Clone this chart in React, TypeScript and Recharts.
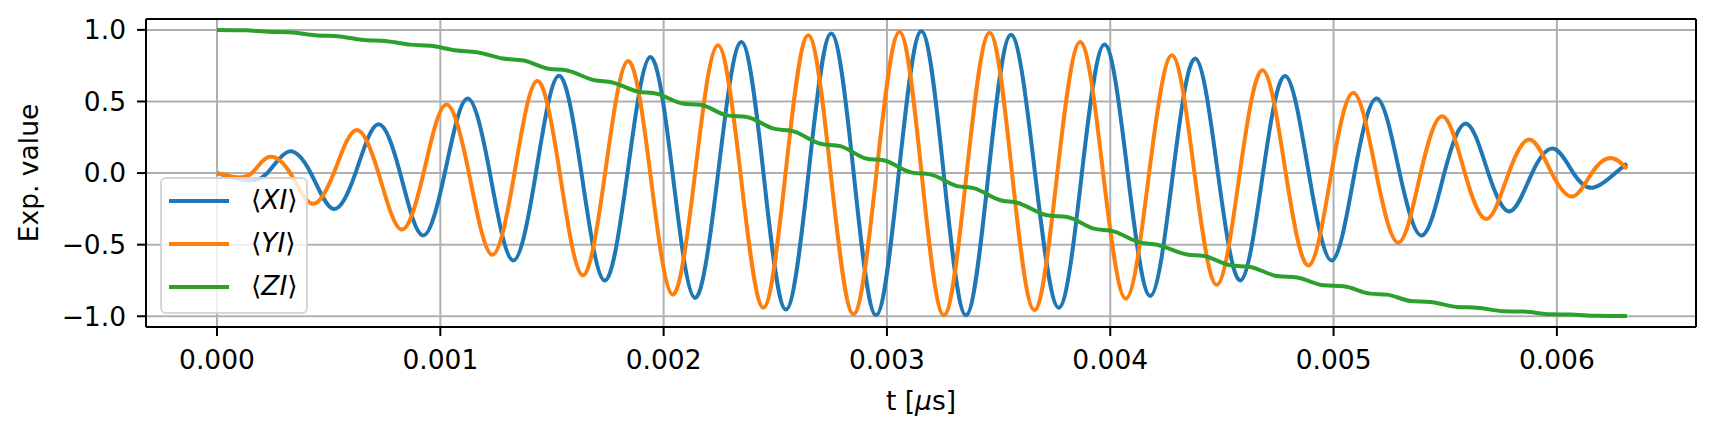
import React from "react";
import { LineChart, Line, XAxis, YAxis, CartesianGrid, Legend, Label, ReferenceLine } from "recharts";

// time samples [µs] and expectation values
const xiTime = [
  0, 0.00013, 0.000225, 0.00032, 0.00042, 0.00052, 0.00062, 0.00072, 0.00082, 0.00092,
  0.00102, 0.00112, 0.001222, 0.001325, 0.001428, 0.00153, 0.001632, 0.001735, 0.001838, 0.00194,
  0.00204, 0.00214, 0.002244, 0.002347, 0.002447, 0.002547, 0.002649, 0.00275, 0.002851, 0.002951,
  0.003053, 0.003154, 0.003254, 0.003354, 0.003455, 0.003556, 0.003663, 0.00377, 0.003873, 0.003975,
  0.004078, 0.00418, 0.004281, 0.004381, 0.004482, 0.004583, 0.004684, 0.004784, 0.004889, 0.004993,
  0.005094, 0.005195, 0.005296, 0.005397, 0.005496, 0.005595, 0.005693, 0.005791, 0.005889, 0.005986,
  0.006074, 0.006162, 0.006262, 0.006314,
];
const xiValue = [
  0, -0.05, 0, 0.15, 0, -0.25, 0, 0.34, 0, -0.435,
  0, 0.52, 0, -0.61, 0, 0.68, 0, -0.75, 0, 0.81,
  0, -0.872, 0, 0.916, 0, -0.953, 0, 0.975, 0, -0.993,
  0, 0.99, 0, -0.993, 0, 0.966, 0, -0.94, 0, 0.898,
  0, -0.858, 0, 0.8, 0, -0.75, 0, 0.678, 0, -0.61,
  0, 0.52, 0, -0.436, 0, 0.345, 0, -0.267, 0, 0.17,
  0, -0.102, 0, 0.066,
];

const yiTime = [
  0, 0.000082, 0.000156, 0.000231, 0.000328, 0.000425, 0.000523, 0.000622, 0.000723, 0.000825,
  0.000925, 0.001025, 0.001128, 0.001231, 0.001332, 0.001433, 0.001535, 0.001637, 0.001738, 0.00184,
  0.00194, 0.00204, 0.002141, 0.002242, 0.002344, 0.002446, 0.002546, 0.002647, 0.002748, 0.00285,
  0.002953, 0.003056, 0.003155, 0.003255, 0.003357, 0.00346, 0.00356, 0.003661, 0.003763, 0.003866,
  0.003968, 0.004071, 0.004174, 0.004277, 0.004377, 0.004478, 0.00458, 0.004683, 0.004786, 0.004889,
  0.00499, 0.00509, 0.005191, 0.005292, 0.00539, 0.005489, 0.005588, 0.005687, 0.005784, 0.005881,
  0.005977, 0.006072, 0.006156, 0.00624, 0.006314,
];
const yiValue = [
  0, -0.028, 0, 0.112, 0, -0.214, 0, 0.3, 0, -0.394,
  0, 0.478, 0, -0.571, 0, 0.643, 0, -0.714, 0, 0.783,
  0, -0.849, 0, 0.893, 0, -0.94, 0, 0.963, 0, -0.986,
  0, 0.986, 0, -0.993, 0, 0.98, 0, -0.958, 0, 0.916,
  0, -0.877, 0, 0.823, 0, -0.78, 0, 0.718, 0, -0.645,
  0, 0.56, 0, -0.485, 0, 0.397, 0, -0.32, 0, 0.233,
  0, -0.163, 0, 0.105, 0.03,
];

const ziTime = [
  0, 0.00013, 0.00023, 0.00034, 0.00044, 0.00055, 0.00066, 0.00076, 0.000866, 0.000955,
  0.001075, 0.001164, 0.00128, 0.001373, 0.001485, 0.001567, 0.00169, 0.00177, 0.001881, 0.00197,
  0.002089, 0.002164, 0.002284, 0.002373, 0.002493, 0.002582, 0.002702, 0.002791, 0.002911, 0.002985,
  0.003112, 0.003194, 0.003314, 0.003388, 0.003508, 0.003583, 0.003717, 0.003807, 0.003926, 0.004015,
  0.004135, 0.00421, 0.004344, 0.004419, 0.004538, 0.004627, 0.004747, 0.004837, 0.004956, 0.005045,
  0.005165, 0.005239, 0.005344, 0.005433, 0.005553, 0.005642, 0.005762, 0.005851, 0.00597, 0.00606,
  0.00618, 0.006314,
];
const ziValue = [
  1.0, 0.997, 0.987, 0.981, 0.962, 0.954, 0.929, 0.921, 0.897, 0.889,
  0.856, 0.844, 0.8, 0.786, 0.728, 0.717, 0.648, 0.633, 0.57, 0.554,
  0.484, 0.477, 0.403, 0.391, 0.31, 0.291, 0.205, 0.188, 0.1, 0.089,
  0.003, -0.009, -0.091, -0.105, -0.19, -0.207, -0.295, -0.307, -0.388, -0.407,
  -0.486, -0.5, -0.569, -0.579, -0.644, -0.656, -0.719, -0.73, -0.784, -0.791,
  -0.842, -0.849, -0.893, -0.9, -0.935, -0.94, -0.965, -0.967, -0.986, -0.988,
  -0.997, -0.999,
];

const xTicks = [0, 0.001, 0.002, 0.003, 0.004, 0.005, 0.006];
const yTicks = [-1, -0.5, 0, 0.5, 1];

const X_DOMAIN = [-0.000318, 0.006623];
const Y_DOMAIN = [-1.075, 1.076];

const FONT = '"DejaVu Sans", "Liberation Sans", sans-serif';
const FONT_SIZE = 26.5;

const toPoints = (time: number[], value: number[]) =>
  time.map((t, i) => ({ t, v: value[i] }));

const SERIES = [
  { key: "XI", color: "#1f77b4", curve: "natural", data: toPoints(xiTime, xiValue) },
  { key: "YI", color: "#ff7f0e", curve: "natural", data: toPoints(yiTime, yiValue) },
  { key: "ZI", color: "#2ca02c", curve: "monotone", data: toPoints(ziTime, ziValue) },
] as const;

const formatY = (v: number) => v.toFixed(1).replace("-", "\u2212");

function XTitle(props: any) {
  const { viewBox } = props;
  return (
    <text
      x={viewBox.x + viewBox.width / 2}
      y={viewBox.y + 83}
      textAnchor="middle"
      fontSize={FONT_SIZE}
      fontFamily={FONT}
      fill="#000"
    >
      t [<tspan fontStyle="italic">μ</tspan>s]
    </text>
  );
}

function YTitle(props: any) {
  const { viewBox } = props;
  const cx = viewBox.x - 8;
  const cy = viewBox.y + viewBox.height / 2;
  return (
    <text
      x={cx}
      y={cy}
      transform={`rotate(-90 ${cx} ${cy})`}
      textAnchor="middle"
      fontSize={FONT_SIZE}
      fontFamily={FONT}
      fill="#000"
    >
      Exp. value
    </text>
  );
}

const renderLegend = () => (
  <div
    style={{
      position: "relative",
      boxSizing: "border-box",
      width: 148,
      height: 137,
      background: "rgba(255,255,255,0.8)",
      border: "2px solid rgba(204,204,204,0.8)",
      borderRadius: 6,
      fontFamily: FONT,
      fontSize: FONT_SIZE,
      color: "#000",
    }}
  >
    {SERIES.map((s, i) => (
      <div
        key={s.key}
        style={{
          position: "absolute",
          left: 0,
          top: 0 + i * 43,
          height: 43,
          display: "flex",
          alignItems: "center",
          whiteSpace: "nowrap",
        }}
      >
        <div style={{ marginLeft: 7, width: 60, height: 4, background: s.color }} />
        <span style={{ marginLeft: 22, lineHeight: 1 }}>
          {"\u27E8"}
          <i>{s.key}</i>
          {"\u27E9"}
        </span>
      </div>
    ))}
  </div>
);

export default function App() {
  return (
    <div style={{ position: "absolute", left: 0, top: 0, width: 1716, height: 438, background: "#fff" }}>
      <LineChart width={1716} height={438} margin={{ top: 19, right: 20, left: 46, bottom: 51 }}>
        <CartesianGrid stroke="#b0b0b0" strokeWidth={2} />
        <XAxis
          dataKey="t"
          type="number"
          domain={X_DOMAIN}
          allowDataOverflow
          ticks={xTicks}
          tickFormatter={(v: number) => v.toFixed(3)}
          height={60}
          tickSize={9}
          tickMargin={14}
          axisLine={{ stroke: "#000", strokeWidth: 2 }}
          tickLine={{ stroke: "#000", strokeWidth: 2 }}
          tick={{ fill: "#000", fontSize: FONT_SIZE, fontFamily: FONT }}
        >
          <Label content={XTitle} />
        </XAxis>
        <YAxis
          type="number"
          domain={Y_DOMAIN}
          allowDataOverflow
          ticks={yTicks}
          tickFormatter={formatY}
          width={100}
          tickSize={9}
          tickMargin={11}
          axisLine={{ stroke: "#000", strokeWidth: 2 }}
          tickLine={{ stroke: "#000", strokeWidth: 2 }}
          tick={{ fill: "#000", fontSize: FONT_SIZE, fontFamily: FONT }}
        >
          <Label content={YTitle} />
        </YAxis>
        {SERIES.map((s) => (
          <Line
            key={s.key}
            data={s.data}
            dataKey="v"
            name={s.key}
            type={s.curve}
            stroke={s.color}
            strokeWidth={4}
            dot={false}
            activeDot={false}
            isAnimationActive={false}
          />
        ))}
        {/* top and right spines of the axes frame */}
        <ReferenceLine y={Y_DOMAIN[1]} stroke="#000" strokeWidth={2} />
        <ReferenceLine x={X_DOMAIN[1]} stroke="#000" strokeWidth={2} />
        <Legend
          layout="vertical"
          align="center"
          verticalAlign="middle"
          wrapperStyle={{ left: 160, top: 177, width: 148, height: 137 }}
          content={renderLegend}
        />
      </LineChart>
    </div>
  );
}
